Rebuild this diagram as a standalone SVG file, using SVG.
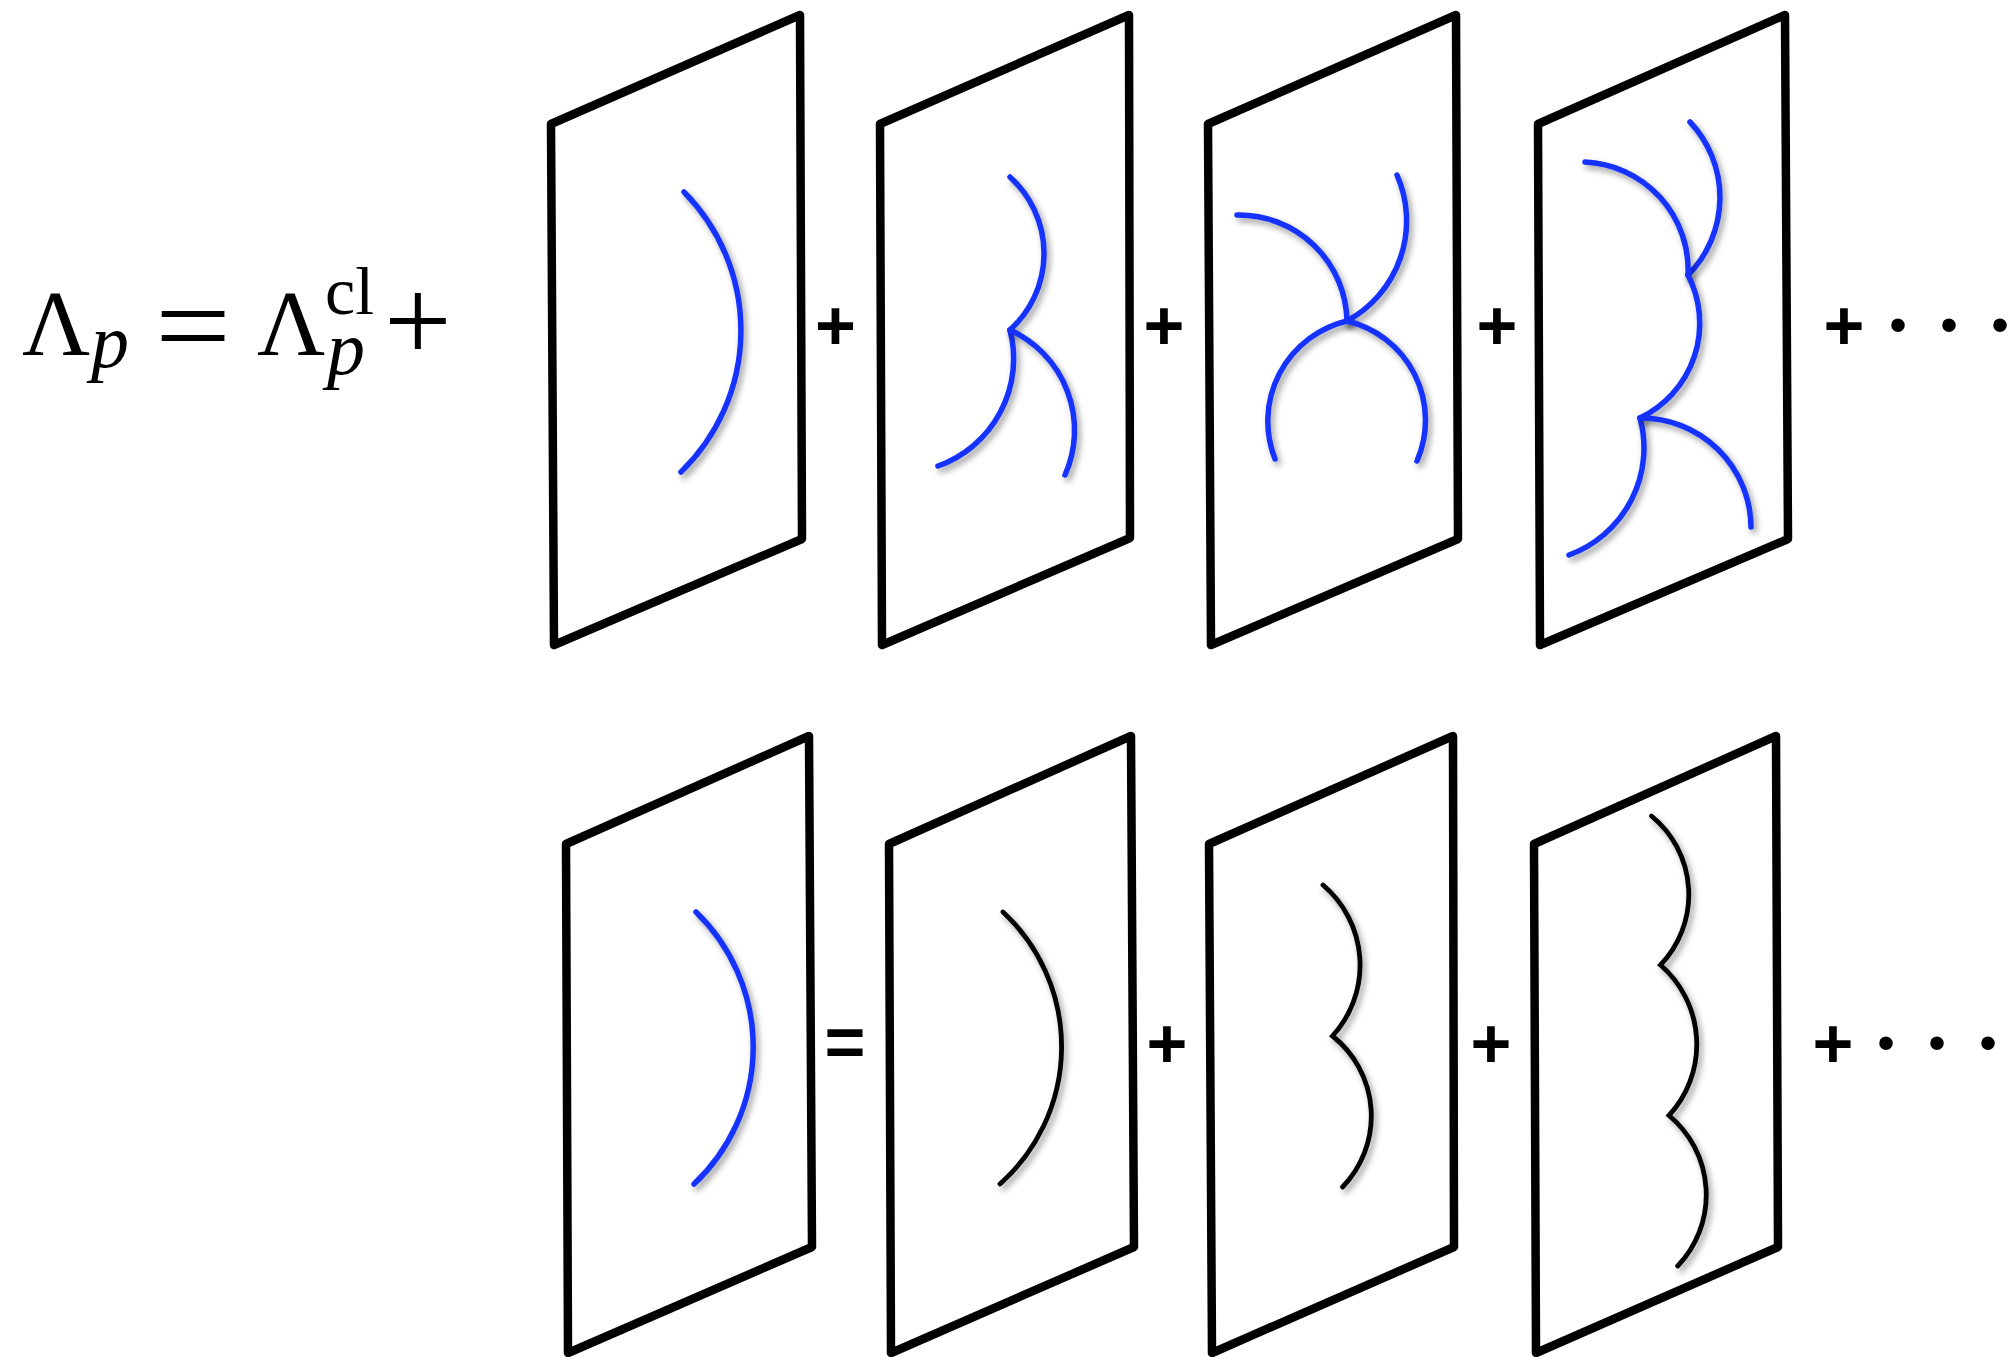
<svg xmlns="http://www.w3.org/2000/svg" width="2011" height="1357" viewBox="0 0 2011 1357">
<defs>
<filter id="sh" x="-30%" y="-30%" width="160%" height="160%">
<feDropShadow dx="3" dy="4" stdDeviation="3" flood-color="#000" flood-opacity="0.4"/>
</filter>
</defs>
<style>
.panel{fill:none;stroke:#000;stroke-width:8.5;stroke-linejoin:round}
.blue{fill:none;stroke:#1432ff;stroke-width:5.5;stroke-linecap:round;filter:url(#sh)}
.blk{fill:none;stroke:#000;stroke-width:4.8;stroke-linecap:round;filter:url(#sh)}
.op{font-family:"Liberation Sans",Arial,sans-serif;font-size:70px;font-weight:bold;fill:#000;text-anchor:middle}
.dot{font-size:50px;font-weight:normal}
.eq{font-family:"Liberation Serif","Times New Roman",serif;fill:#000}
</style>
<rect width="2011" height="1357" fill="#fff"/>

<g id="equation">
<text class="eq" font-size="94" x="22" y="355">Λ</text>
<text class="eq" font-size="76" font-style="italic" x="91" y="367">p</text>
<text class="eq" font-size="120" x="155" y="366" textLength="76" lengthAdjust="spacingAndGlyphs">=</text>
<text class="eq" font-size="94" x="257" y="355">Λ</text>
<text class="eq" font-size="68" x="325" y="314">cl</text>
<text class="eq" font-size="76" font-style="italic" x="327" y="374">p</text>
<text class="eq" font-size="120" x="384" y="361">+</text>
</g>

<g id="top-1">
<polygon class="panel" points="551,124 800,15 802,539 554,645"/>
<path class="blue" d="M684,192 A197,197 0 0 1 681,472"/>
</g>
<g id="top-2">
<polygon class="panel" points="880,124 1129,15 1130,538 882,645"/>
<path class="blue" d="M1010,177 A103,103 0 0 1 1010,330"/>
<path class="blue" d="M1010,330 A114,114 0 0 1 938,466"/>
<path class="blue" d="M1010,330 A110,110 0 0 1 1065,475"/>
</g>
<g id="top-3">
<polygon class="panel" points="1208,124 1456,15 1458,539 1211,645"/>
<path class="blue" d="M1237,215 A108,108 0 0 1 1347,321"/>
<path class="blue" d="M1397,175 A114,114 0 0 1 1347,321"/>
<path class="blue" d="M1347,321 A103,103 0 0 0 1275,459"/>
<path class="blue" d="M1347,321 A102,102 0 0 1 1417,461"/>
</g>
<g id="top-4">
<polygon class="panel" points="1538,124 1785,15 1788,539 1540,645"/>
<path class="blue" d="M1690,122 A110,110 0 0 1 1688,275"/>
<path class="blue" d="M1585,162 A108,108 0 0 1 1688,275"/>
<path class="blue" d="M1688,275 A105,105 0 0 1 1640,418"/>
<path class="blue" d="M1640,418 A114,114 0 0 1 1569,555"/>
<path class="blue" d="M1640,418 A110,110 0 0 1 1751,527"/>
</g>

<g id="bottom-1">
<polygon class="panel" points="566,844 809,736 812,1247 568,1353"/>
<path class="blue" d="M696,912 A188,188 0 0 1 694,1184"/>
</g>
<g id="bottom-2">
<polygon class="panel" points="889,844 1131,736 1134,1247 891,1353"/>
<path class="blk" d="M1003,912 A184,184 0 0 1 1000,1184"/>
</g>
<g id="bottom-3">
<polygon class="panel" points="1209,844 1453,736 1454,1247 1212,1353"/>
<path class="blk" d="M1323,885 A105,105 0 0 1 1332.5,1036 A102,102 0 0 1 1342.6,1187"/>
</g>
<g id="bottom-4">
<polygon class="panel" points="1534,844 1776,736 1778,1247 1536,1353"/>
<path class="blk" d="M1651.5,816 A101.6,101.6 0 0 1 1660.5,965 A105,105 0 0 1 1669,1115.5 A103,103 0 0 1 1677.7,1266"/>
</g>

<g id="operators">
<text class="op" x="835.5" y="350">+</text>
<text class="op" x="1164" y="350">+</text>
<text class="op" x="1497" y="350">+</text>
<text class="op" y="350"><tspan x="1844">+</tspan><tspan class="dot" x="1898" y="342">•</tspan><tspan class="dot" x="1949" y="342">•</tspan><tspan class="dot" x="2000" y="342">•</tspan></text>
<text class="op" x="845" y="1066">=</text>
<text class="op" x="1167" y="1068">+</text>
<text class="op" x="1491" y="1068">+</text>
<text class="op" y="1068"><tspan x="1833">+</tspan><tspan class="dot" x="1886" y="1060">•</tspan><tspan class="dot" x="1937" y="1060">•</tspan><tspan class="dot" x="1988" y="1060">•</tspan></text>
</g>
</svg>
